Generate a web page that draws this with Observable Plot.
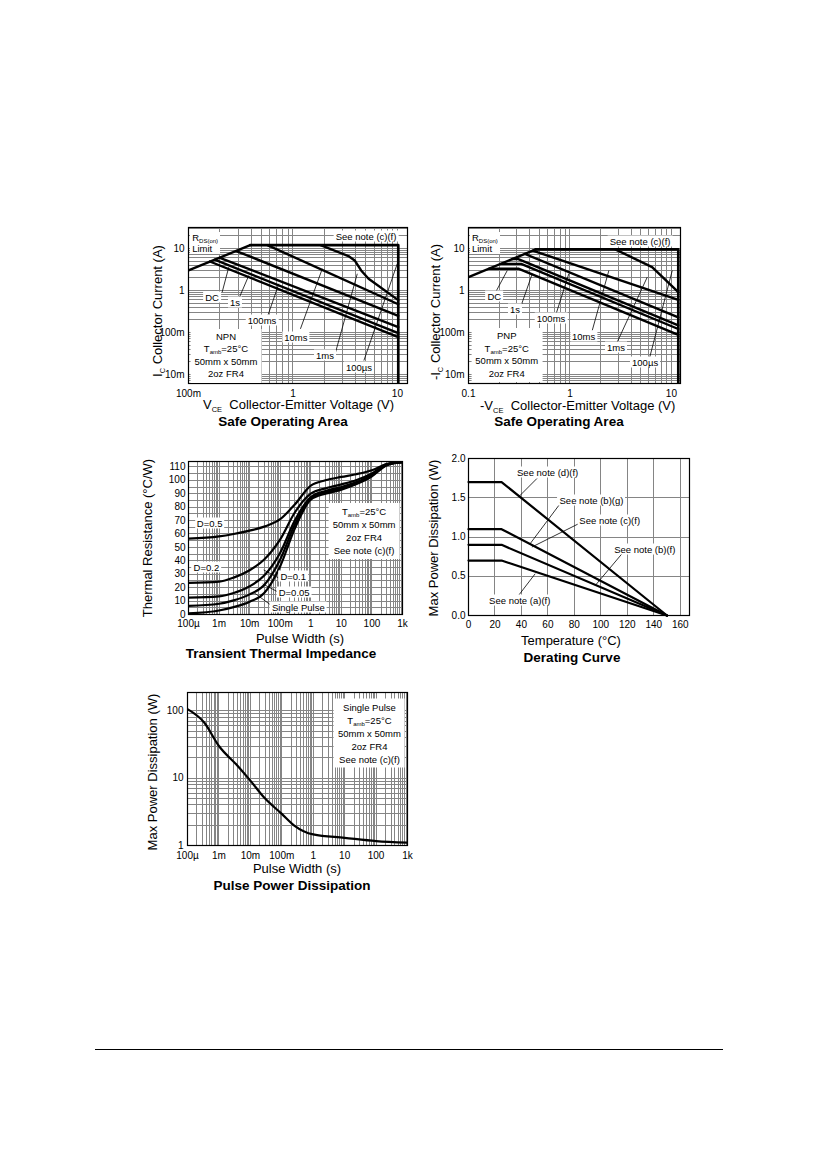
<!DOCTYPE html>
<html><head><meta charset="utf-8">
<script src="https://cdn.jsdelivr.net/npm/d3@7"></script>
<script src="https://cdn.jsdelivr.net/npm/@observablehq/plot@0.6"></script>
<style>
html,body{margin:0;padding:0;background:#fff;}
#page{position:relative;width:826px;height:1169px;overflow:hidden;background:#fff;font-family:"Liberation Sans",Arial,Helvetica,sans-serif;color:#000;}
.t{position:absolute;white-space:nowrap;line-height:1;}
.c{transform:translate(-50%,-50%);}
.l{transform:translate(0,-50%);}
.box{background:#fff;font-size:9.5px;line-height:11px;padding:0 2px;}
.note{background:#fff;font-size:9.5px;line-height:12.5px;padding:2px 4px;text-align:center;}
.note13{line-height:13px;}
.ttl{font-weight:bold;font-size:13.5px;}
.ax{font-size:13px;}
.rot{transform:translate(-50%,-50%) rotate(-90deg);}
sub{font-size:6px;vertical-align:-2px;line-height:0;}
.ax sub{font-size:7.5px;vertical-align:-3px;}
</style></head><body><div id="page"></div>
<script>
// ================= DATA =================
// --- Safe Operating Area, NPN : [VCE (V), IC (A)]
const npnRdsLimit = [[0.1, 3.0], [0.39, 12]];
const npnBoundary = [[0.39, 12], [10.2, 12], [10.2, 0.005]];
const npnDC    = [[0.16, 4.9], [10.2, 0.078]];
const npn1s    = [[0.178, 5.4], [10.2, 0.097]];
const npn100ms = [[0.2, 6.0], [10.2, 0.135]];
const npn10ms  = [[0.287, 8.7], [10.2, 0.25]];
const npn1ms   = [[0.57, 12], [10.2, 0.47]];
const npn100us = [[1.84, 12], [3.4, 6.6], [3.9, 5.2], [4.5, 3.0], [5.3, 1.9], [10.2, 0.59]];
const npnLabels  = [["DC", 0.170, 0.68], ["1s", 0.282, 0.52], ["100ms", 0.512, 0.193], ["10ms", 1.08, 0.076], ["1ms", 2.05, 0.0283], ["100µs", 4.34, 0.0147]];
const npnLeaders = [[0.210, 0.91, 0.243, 3.59], [0.303, 0.634, 0.378, 2.28], [0.568, 0.231, 0.733, 1.45], [1.18, 0.122, 1.91, 3.29], [2.56, 0.034, 4.13, 2.5], [4.78, 0.0215, 9.97, 4.32]];

// --- Safe Operating Area, PNP : [-VCE (V), -IC (A)]
const pnpRdsLimit = [[0.1, 2.07], [0.46, 9.5]];
const pnpBoundary = [[0.46, 9.5], [11.7, 9.5], [11.7, 0.005]];
const pnpDC    = [[0.16, 3.3], [0.31, 3.3], [11.7, 0.088]];
const pnp1s    = [[0.21, 4.3], [0.33, 4.3], [11.7, 0.121]];
const pnp100ms = [[0.27, 5.6], [0.31, 5.6], [11.7, 0.148]];
const pnp10ms  = [[0.36, 7.4], [11.7, 0.23]];
const pnp1ms   = [[0.43, 8.9], [11.7, 0.6]];
const pnp100us = [[2.8, 9.5], [6.46, 3.6], [11.7, 0.91]];
const pnpLabels  = [["DC", 0.182, 0.72], ["1s", 0.291, 0.347], ["100ms", 0.659, 0.212], ["10ms", 1.38, 0.08], ["1ms", 2.88, 0.0447], ["100µs", 5.57, 0.0196]];
const pnpLeaders = [[0.185, 0.91, 0.241, 2.99], [0.326, 0.40, 0.425, 2.5], [0.722, 0.254, 0.975, 2.5], [1.66, 0.112, 2.42, 2.99], [2.92, 0.0587, 5.78, 2.07], [6.0, 0.0215, 10.2, 2.99]];

const soaIcTicks = [0.01, 0.1, 1, 10];
const soaIcTickLabels = ["10m", "100m", "1", "10"];
const soaVceTicks = [0.1, 1, 10];
const npnVceTickLabels = ["100m", "1", "10"];
const pnpVceTickLabels = ["0.1", "1", "10"];

// --- Transient thermal impedance : pulse width (s) vs Rth (°C/W)
const ttiWidth  = [1e-4, 1e-3, 3e-3, 1e-2, 3e-2, 0.1, 0.3, 1, 3, 10, 30, 100, 300, 1000];
const ttiD05    = [56.6, 58.2, 60, 62.5, 65.5, 71, 82, 96, 100, 102.5, 104.5, 107.5, 112, 113.5];
const ttiD02    = [23.5, 24.5, 27.5, 33, 41, 56, 76, 90, 94, 97, 100, 105, 112, 113.5];
const ttiD01    = [12.5, 13.5, 16, 21, 29, 46, 70, 87.5, 92, 95, 98.5, 104, 111.5, 113.5];
const ttiD005   = [6.5, 8, 10.5, 15, 22, 41, 67, 86.5, 91, 94, 97.5, 103.5, 111.5, 113.5];
const ttiSingle = [0.8, 3, 5.5, 9.5, 16, 36, 64, 85.5, 90, 93, 97, 103, 111, 113.5];
const ttiLabels  = [["D=0.5", 5.1e-4, 67.9], ["D=0.2", 4e-4, 35.1], ["D=0.1", 0.277, 28.2], ["D=0.05", 0.297, 16.5], ["Single Pulse", 0.405, 5.4]];
const ttiLeaders = [[0.102, 26.5, 0.0288, 33.2], [0.089, 16.5, 0.0267, 22.8], [0.0514, 6.7, 0.0135, 16.5]];
const ttiRthTicks = [0, 10, 20, 30, 40, 50, 60, 70, 80, 90, 100, 110];
const pulseTicks = [1e-4, 1e-3, 1e-2, 0.1, 1, 10, 100, 1000];
const pulseTickLabels = ["100µ", "1m", "10m", "100m", "1", "10", "100", "1k"];

// --- Derating curve : temperature (°C) vs max power (W)
const derTemp  = [0, 25, 150];
const derPmax  = [1.7, 1.1, 0.9, 0.7];
const derLabels  = [["See note (d)(f)", 60.2, 1.816], ["See note (b)(g)", 93.3, 1.468], ["See note (c)(f)", 107.1, 1.212], ["See note (b)(f)", 133.6, 0.839], ["See note (a)(f)", 39.1, 0.191]];
const derLeaders = [[51.7, 1.745, 37.8, 1.51], [69.3, 1.426, 46.6, 0.915], [85.7, 1.19, 47.9, 0.872], [116, 0.787, 95.8, 0.383], [37.8, 0.255, 50.4, 0.532]];
const derTempTicks  = [0, 20, 40, 60, 80, 100, 120, 140, 160];
const derPowerTicks = [0, 0.5, 1, 1.5, 2];
const derPowerTickLabels = ["0.0", "0.5", "1.0", "1.5", "2.0"];

// --- Pulse power dissipation : pulse width (s) vs max power (W)
const ppdWidth = [1e-4, 3.4e-4, 1e-3, 3.9e-3, 1e-2, 2.7e-2, 0.1, 0.25, 1, 10, 100, 1000];
const ppdPower = [106, 67, 30, 15.3, 9.2, 5.2, 2.95, 1.98, 1.46, 1.30, 1.16, 1.1];
const ppdPowerTicks = [1, 10, 100];

// ================= DRAWING =================
const FONT = '"Liberation Sans", Arial, Helvetica, sans-serif';
const GRID = "#858585";
const page = document.getElementById("page");

function logGrid(lo, hi) {
  const out = [];
  for (let e = Math.floor(Math.log10(lo)) - 1; e <= Math.ceil(Math.log10(hi)); e++)
    for (let m = 1; m < 10; m++) { const v = m * Math.pow(10, e); if (v > lo * 1.001 && v < hi / 1.001) out.push(v); }
  return out;
}
function linGrid(lo, hi, step) { const out = []; for (let v = lo + step; v < hi - 1e-9; v += step) out.push(+v.toFixed(6)); return out; }
const lookup = (ticks, labels) => d => labels[ticks.findIndex(t => Math.abs(t - d) < 1e-9 * Math.max(1, Math.abs(t)))];
const gridX = vals => Plot.ruleX(vals, {stroke: GRID, strokeWidth: 1, shapeRendering: "crispEdges"});
const gridY = vals => Plot.ruleY(vals, {stroke: GRID, strokeWidth: 1, shapeRendering: "crispEdges"});

function makeChart(frame, opts) {
  const [x0, y0, x1, y1] = frame;
  const m = {l: 45, r: 15, t: 10, b: 25};
  const svg = Plot.plot({
    width: x1 - x0 + m.l + m.r, height: y1 - y0 + m.t + m.b,
    marginLeft: m.l, marginRight: m.r, marginTop: m.t, marginBottom: m.b,
    style: {fontFamily: FONT, fontSize: "10px", background: "transparent", color: "#000", overflow: "visible"},
    ...opts
  });
  svg.style.position = "absolute";
  svg.style.left = (x0 - m.l) + "px";
  svg.style.top = (y0 - m.t) + "px";
  page.appendChild(svg);
  const sx = svg.scale("x"), sy = svg.scale("y");
  return {X: v => x0 - m.l + sx.apply(v), Y: v => y0 - m.t + sy.apply(v)};
}
function put(ch, html, x, y, cls) {
  const d = document.createElement("div");
  d.className = "t " + cls; d.innerHTML = html;
  d.style.left = ch.X(x) + "px"; d.style.top = ch.Y(y) + "px";
  page.appendChild(d);
}
function pageText(html, left, top, cls) {
  const d = document.createElement("div");
  d.className = "t " + cls; d.innerHTML = html;
  d.style.left = left + "px"; d.style.top = top + "px";
  page.appendChild(d);
}
const curve = (data, w = 2.4) => Plot.line(data, {x: d => d[0], y: d => d[1], stroke: "#000", strokeWidth: w, clip: true});
const leaders = data => Plot.link(data, {x1: d => d[0], y1: d => d[1], x2: d => d[2], y2: d => d[3], stroke: "#000", strokeWidth: 0.8});

// ---------- SOA NPN ----------
{
  const xd = [0.1, 12.5], yd = [0.0061, 31.6];
  const ch = makeChart([188, 227, 407, 383], {
    x: {type: "log", domain: xd}, y: {type: "log", domain: yd},
    marks: [
      gridX(logGrid(...xd)), gridY(logGrid(...yd)),
      Plot.axisX(soaVceTicks, {tickFormat: lookup(soaVceTicks, npnVceTickLabels), tickSize: 0, tickPadding: 6, label: null}),
      Plot.axisY(soaIcTicks, {tickFormat: lookup(soaIcTicks, soaIcTickLabels), tickSize: 0, tickPadding: 4, label: null}),
      leaders(npnLeaders),
      curve(npnRdsLimit), curve(npnBoundary, 2.7),
      curve(npnDC), curve(npn1s), curve(npn100ms), curve(npn10ms), curve(npn1ms), curve(npn100us),
      Plot.frame({stroke: "#000", strokeWidth: 1.2})
    ]
  });
  npnLabels.forEach(([t, x, y]) => put(ch, t, x, y, "box c"));
  put(ch, "R<sub>DS(on)</sub><br>Limit", 0.105, 13.2, "box l");
  put(ch, "See note (c)(f)", 5.07, 19.3, "box c");
  put(ch, "NPN<br>T<sub>amb</sub>=25°C<br>50mm x 50mm<br>2oz FR4", 0.231, 0.0275, "note c");
}
pageText("I<sub>C</sub> Collector Current (A)", 157, 311, "ax rot");
pageText("V<sub>CE</sub>&nbsp; Collector-Emitter Voltage (V)", 203, 404, "ax l");
pageText("Safe Operating Area", 283, 422, "ttl c");

// ---------- SOA PNP ----------
{
  const xd = [0.1, 12.3], yd = [0.0061, 31.6];
  const ch = makeChart([468, 227, 680, 383], {
    x: {type: "log", domain: xd}, y: {type: "log", domain: yd},
    marks: [
      gridX(logGrid(...xd)), gridY(logGrid(...yd)),
      Plot.axisX(soaVceTicks, {tickFormat: lookup(soaVceTicks, pnpVceTickLabels), tickSize: 0, tickPadding: 6, label: null}),
      Plot.axisY(soaIcTicks, {tickFormat: lookup(soaIcTicks, soaIcTickLabels), tickSize: 0, tickPadding: 4, label: null}),
      leaders(pnpLeaders),
      curve(pnpRdsLimit), curve(pnpBoundary, 2.7),
      curve(pnpDC), curve(pnp1s), curve(pnp100ms), curve(pnp10ms), curve(pnp1ms), curve(pnp100us),
      Plot.frame({stroke: "#000", strokeWidth: 1.2})
    ]
  });
  pnpLabels.forEach(([t, x, y]) => put(ch, t, x, y, "box c"));
  put(ch, "R<sub>DS(on)</sub><br>Limit", 0.1046, 13.1, "box l");
  put(ch, "See note (c)(f)", 4.97, 14.9, "box c");
  put(ch, "PNP<br>T<sub>amb</sub>=25°C<br>50mm x 50mm<br>2oz FR4", 0.241, 0.0277, "note c");
}
pageText("-I<sub>C</sub> Collector Current (A)", 435, 312, "ax rot");
pageText("-V<sub>CE</sub>&nbsp; Collector-Emitter Voltage (V)", 480, 405, "ax l");
pageText("Safe Operating Area", 559, 422, "ttl c");

// ---------- Transient Thermal Impedance ----------
{
  const xd = [1e-4, 1e3], yd = [0, 114];
  const series = [ttiD05, ttiD02, ttiD01, ttiD005, ttiSingle];
  const ch = makeChart([188, 461, 402, 614], {
    x: {type: "log", domain: xd}, y: {domain: yd},
    marks: [
      gridX(logGrid(...xd)), gridY(linGrid(0, 114, 5)),
      Plot.axisX(pulseTicks, {tickFormat: lookup(pulseTicks, pulseTickLabels), tickSize: 0, tickPadding: 5, label: null}),
      Plot.axisY(ttiRthTicks, {tickFormat: d => String(d), tickSize: 0, tickPadding: 3, label: null}),
      leaders(ttiLeaders),
      ...series.map(s => Plot.line(d3.zip(ttiWidth, s), {x: d => d[0], y: d => d[1], stroke: "#000", strokeWidth: 2.2, curve: "monotone-x", clip: true})),
      Plot.frame({stroke: "#000", strokeWidth: 1.2})
    ]
  });
  ttiLabels.forEach(([t, x, y]) => put(ch, t, x, y, "box c"));
  put(ch, "T<sub>amb</sub>=25°C<br>50mm x 50mm<br>2oz FR4<br>See note (c)(f)", 57.5, 61.6, "note note13 c");
}
pageText("Thermal Resistance (°C/W)", 147, 538, "ax rot");
pageText("Pulse Width (s)", 300, 638, "ax c");
pageText("Transient Thermal Impedance", 281, 654, "ttl c");

// ---------- Derating Curve ----------
{
  const xd = [0, 167], yd = [0, 2];
  const ch = makeChart([468, 458, 689, 615], {
    x: {domain: xd}, y: {domain: yd},
    marks: [
      gridX(linGrid(0, 167, 20)), gridY(linGrid(0, 2, 0.5)),
      Plot.axisX(derTempTicks, {tickFormat: d => String(d), tickSize: 0, tickPadding: 5, label: null}),
      Plot.axisY(derPowerTicks, {tickFormat: lookup(derPowerTicks, derPowerTickLabels), tickSize: 0, tickPadding: 3, label: null}),
      leaders(derLeaders),
      ...derPmax.map(p => Plot.line([[derTemp[0], p], [derTemp[1], p], [derTemp[2], 0]], {x: d => d[0], y: d => d[1], stroke: "#000", strokeWidth: 2.2})),
      Plot.frame({stroke: "#000", strokeWidth: 1.2})
    ]
  });
  derLabels.forEach(([t, x, y]) => put(ch, t, x, y, "box c"));
}
pageText("Max Power Dissipation (W)", 433, 538, "ax rot");
pageText("Temperature (°C)", 571, 640, "ax c");
pageText("Derating Curve", 572, 658, "ttl c");

// ---------- Pulse Power Dissipation ----------
{
  const xd = [1e-4, 1e3], yd = [1, 187];
  const ch = makeChart([187, 692, 407, 845], {
    x: {type: "log", domain: xd}, y: {type: "log", domain: yd},
    marks: [
      gridX(logGrid(...xd)), gridY(logGrid(...yd)),
      Plot.axisX(pulseTicks, {tickFormat: lookup(pulseTicks, pulseTickLabels), tickSize: 0, tickPadding: 6, label: null}),
      Plot.axisY(ppdPowerTicks, {tickFormat: d => String(d), tickSize: 0, tickPadding: 4, label: null}),
      Plot.line(d3.zip(ppdWidth, ppdPower), {x: d => d[0], y: d => d[1], stroke: "#000", strokeWidth: 2.2, curve: "monotone-x", clip: true}),
      Plot.frame({stroke: "#000", strokeWidth: 1.2})
    ]
  });
  put(ch, "Single Pulse<br>T<sub>amb</sub>=25°C<br>50mm x 50mm<br>2oz FR4<br>See note (c)(f)", 64, 45.6, "note note13 c");
}
pageText("Max Power Dissipation (W)", 152, 772, "ax rot");
pageText("Pulse Width (s)", 297, 868, "ax c");
pageText("Pulse Power Dissipation", 292, 886, "ttl c");

// page footer rule
{
  const d = document.createElement("div");
  d.style.cssText = "position:absolute;left:95px;top:1049px;width:628px;height:1px;background:#000;";
  page.appendChild(d);
}
</script></body></html>
